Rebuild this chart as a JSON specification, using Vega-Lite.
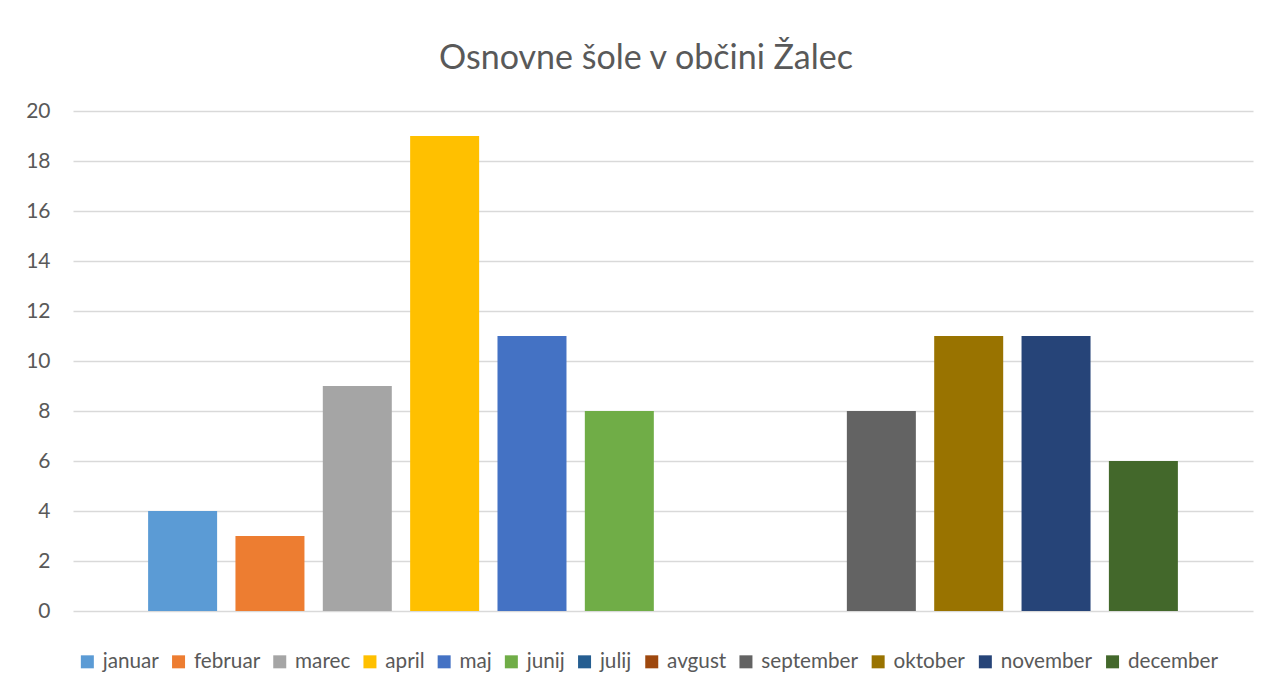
{
  "$schema": "https://vega.github.io/schema/vega-lite/v6.json",
  "width": 1180,
  "height": 500,
  "autosize": {"type": "none"},
  "padding": {"left": 73, "top": 111, "right": 18, "bottom": 82},
  "background": "white",
  "title": {
    "text": "Osnovne šole v občini Žalec",
    "font": "Lato",
    "fontSize": 34,
    "fontWeight": "normal",
    "color": "#595959",
    "anchor": "middle",
    "frame": "group",
    "baseline": "alphabetic",
    "dx": -17,
    "offset": -3
  },
  "data": {
    "values": [
      {"mesec": "januar", "vrednost": 4},
      {"mesec": "februar", "vrednost": 3},
      {"mesec": "marec", "vrednost": 9},
      {"mesec": "april", "vrednost": 19},
      {"mesec": "maj", "vrednost": 11},
      {"mesec": "junij", "vrednost": 8},
      {"mesec": "julij", "vrednost": 0},
      {"mesec": "avgust", "vrednost": 0},
      {"mesec": "september", "vrednost": 8},
      {"mesec": "oktober", "vrednost": 11},
      {"mesec": "november", "vrednost": 11},
      {"mesec": "december", "vrednost": 6}
    ]
  },
  "mark": {"type": "bar"},
  "encoding": {
    "x": {
      "field": "mesec",
      "type": "nominal",
      "sort": ["januar", "februar", "marec", "april", "maj", "junij", "julij", "avgust", "september", "oktober", "november", "december"],
      "axis": null,
      "scale": {"paddingInner": 0.21, "paddingOuter": 0.86}
    },
    "y": {
      "field": "vrednost",
      "type": "quantitative",
      "scale": {"domain": [0, 20], "nice": false},
      "axis": {
        "title": null,
        "values": [0, 2, 4, 6, 8, 10, 12, 14, 16, 18, 20],
        "grid": true,
        "gridColor": "#D9D9D9",
        "gridWidth": 1.3,
        "domain": false,
        "ticks": false,
        "labelFont": "Lato",
        "labelFontSize": 21,
        "labelColor": "#595959",
        "labelPadding": 23
      }
    },
    "color": {
      "field": "mesec",
      "type": "nominal",
      "sort": ["januar", "februar", "marec", "april", "maj", "junij", "julij", "avgust", "september", "oktober", "november", "december"],
      "scale": {
        "domain": ["januar", "februar", "marec", "april", "maj", "junij", "julij", "avgust", "september", "oktober", "november", "december"],
        "range": ["#5B9BD5", "#ED7D31", "#A5A5A5", "#FFC000", "#4472C4", "#70AD47", "#255E91", "#9E480E", "#636363", "#997300", "#264478", "#43682B"]
      },
      "legend": {
        "title": null,
        "orient": "none",
        "legendX": 4,
        "legendY": 540,
        "direction": "horizontal",
        "columns": 12,
        "symbolType": "square",
        "symbolSize": 169,
        "symbolStrokeWidth": 0,
        "symbolOpacity": 1,
        "labelFont": "Lato",
        "labelFontSize": 20.7,
        "labelColor": "#595959",
        "labelOffset": 5,
        "columnPadding": 9.2
      }
    }
  },
  "config": {
    "view": {"stroke": null}
  }
}
